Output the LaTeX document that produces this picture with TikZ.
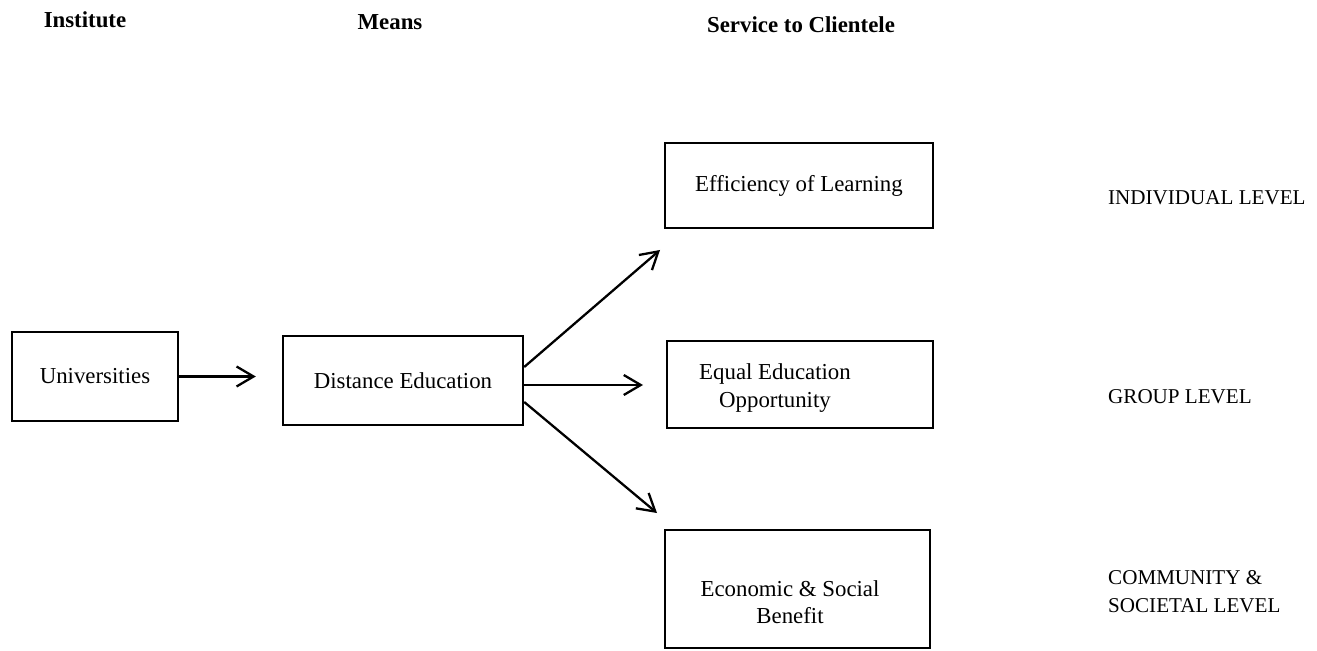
\documentclass[tikz,border=0pt]{standalone}
\usepackage{fontspec}
\setmainfont{Liberation Serif}
\usepackage{tikz}
\usetikzlibrary{arrows.meta}

\begin{document}
\begin{tikzpicture}[x=0.02cm,y=-0.02cm,
  box/.style={draw, line width=1.4pt, inner sep=0pt, align=center, font=\fontsize{13}{15.5}\selectfont},
  txt/.style={align=center, font=\fontsize{13}{15.5}\selectfont},
  head/.style={font=\bfseries\fontsize{13}{15.5}\selectfont},
  lvl/.style={anchor=west, align=left, font=\fontsize{12}{16}\selectfont},
  arr/.style={-{Straight Barb[length=3.4mm,width=4mm]}, line width=1.3pt}]

\useasboundingbox (0,0) rectangle (1317,651);

% Column headings
\node[head] (inst) at (85,20) {Institute};
\node[head] (means) at (390,22) {Means};
\node[head] (serv) at (801,25) {Service to Clientele};

% Boxes
\node[box, minimum width=3.32cm, minimum height=1.78cm] (univ) at (95,376.5) {Universities};
\node[box, minimum width=4.8cm, minimum height=1.78cm] (dist) at (403,380.5) {Distance Education};
\node[box, minimum width=5.36cm, minimum height=1.7cm] (eff) at (799,185.5) {Efficiency of Learning};
\node[box, minimum width=5.32cm, minimum height=1.74cm] (eq) at (800,384.5) {};
\node[box, minimum width=5.3cm, minimum height=2.36cm] (eco) at (797.5,589) {};
\node[txt] (eqtxt) at (775,388) {Equal Education\\Opportunity};
\node[txt] (ecotxt) at (790,602) {Economic \& Social\\Benefit};

% Levels
\node[lvl] (indiv) at (1102,198) {INDIVIDUAL LEVEL};
\node[lvl] (group) at (1102,397) {GROUP LEVEL};
\node[lvl] (comm) at (1102,592) {COMMUNITY \&\\SOCIETAL LEVEL};

% Arrows
\coordinate (toEff) at (660,250);
\coordinate (toEq) at (643,385);
\coordinate (toEco) at (657,513);
\draw[arr, shorten >=0.52cm] (univ.east) -- (univ.east -| dist.west);
\draw[arr] ([yshift=0.27cm]dist.east) -- (toEff);
\draw[arr] (dist.east |- toEq) -- (toEq);
\draw[arr] ([yshift=-0.43cm]dist.east) -- (toEco);
\end{tikzpicture}
\end{document}
